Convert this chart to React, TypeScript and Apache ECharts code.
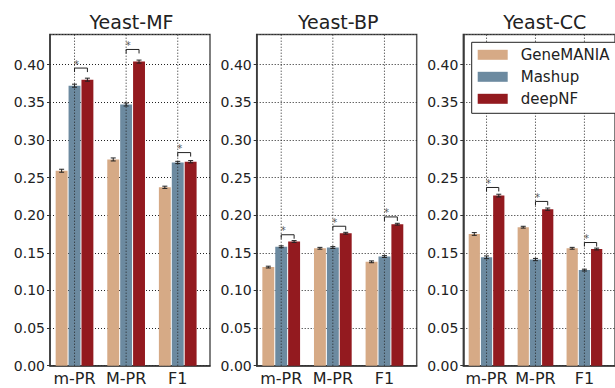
import { useEffect, useRef } from 'react';
import * as echarts from 'echarts';

const categories = ['m-PR', 'M-PR', 'F1'];
const panelTitles = ['Yeast-MF', 'Yeast-BP', 'Yeast-CC'];
const methods = ['GeneMANIA', 'Mashup', 'deepNF'];
const methodColors = ['#D6AA86', '#6C8AA0', '#931A1F'];

// Yeast-MF
const mfGeneMANIA = [0.259, 0.274, 0.237];
const mfMashup = [0.372, 0.347, 0.270];
const mfDeepNF = [0.380, 0.404, 0.271];
const mfErrGeneMANIA = [0.002, 0.002, 0.0015];
const mfErrMashup = [0.002, 0.002, 0.0015];
const mfErrDeepNF = [0.002, 0.002, 0.0015];
// Yeast-BP
const bpGeneMANIA = [0.131, 0.156, 0.138];
const bpMashup = [0.158, 0.157, 0.145];
const bpDeepNF = [0.165, 0.176, 0.188];
const bpErrGeneMANIA = [0.0012, 0.0012, 0.0012];
const bpErrMashup = [0.0012, 0.0012, 0.0012];
const bpErrDeepNF = [0.0012, 0.0012, 0.0012];
// Yeast-CC
const ccGeneMANIA = [0.175, 0.184, 0.156];
const ccMashup = [0.144, 0.141, 0.127];
const ccDeepNF = [0.226, 0.208, 0.155];
const ccErrGeneMANIA = [0.0018, 0.0012, 0.0012];
const ccErrMashup = [0.0018, 0.0015, 0.0012];
const ccErrDeepNF = [0.0018, 0.0015, 0.0012];

// significance (Mashup vs deepNF) per category
const mfSignificant = [true, true, true];
const bpSignificant = [true, true, true];
const ccSignificant = [true, true, true];

const panelValues = [
  [mfGeneMANIA, mfMashup, mfDeepNF],
  [bpGeneMANIA, bpMashup, bpDeepNF],
  [ccGeneMANIA, ccMashup, ccDeepNF],
];
const panelErrors = [
  [mfErrGeneMANIA, mfErrMashup, mfErrDeepNF],
  [bpErrGeneMANIA, bpErrMashup, bpErrDeepNF],
  [ccErrGeneMANIA, ccErrMashup, ccErrDeepNF],
];
const panelSignificant = [mfSignificant, bpSignificant, ccSignificant];

const FONT = 'DejaVu Sans';
const BAR_STEP = 0.25;
const Y_MAX = 0.44;

export default function App() {
  const ref = useRef<HTMLDivElement>(null);
  useEffect(() => {
    if (!ref.current) return;
    const chart = echarts.init(ref.current, undefined, { renderer: 'svg' });
    const lefts = [50, 256.7, 463.3];
    const W = 160;
    const TOP = 34.5;
    const H = 331.2;

    const grids = lefts.map((l) => ({
      left: l,
      top: TOP,
      width: W,
      height: H,
      show: true,
      borderColor: '#555',
      borderWidth: 1.5,
      backgroundColor: 'transparent',
    }));

    const xAxes = lefts.map((_, i) => ({
      type: 'value',
      gridIndex: i,
      min: -0.475,
      max: 2.625,
      axisLine: { show: true, onZero: false, lineStyle: { color: '#333', width: 1.5 } },
      axisTick: { show: false },
      splitLine: { show: false },
      axisLabel: {
        customValues: [0, 1, 2],
        formatter: (v: number) => categories[Math.round(v)] ?? '',
        fontFamily: FONT,
        fontSize: 16,
        color: '#222',
        margin: 5,
      },
    }));

    const yAxes = lefts.map((_, i) => ({
      type: 'value',
      gridIndex: i,
      min: 0,
      max: Y_MAX,
      interval: 0.05,
      axisLine: { show: true, onZero: false, lineStyle: { color: '#333', width: 1.5 } },
      axisTick: { show: true, length: 3, lineStyle: { color: '#333' } },
      splitLine: { show: true, lineStyle: { color: '#222', type: [1, 2], width: 1 } },
      axisLabel: {
        formatter: (v: number) => v.toFixed(2),
        showMaxLabel: false,
        fontFamily: FONT,
        fontSize: 14,
        color: '#222',
        margin: 5,
      },
    }));

    const series: any[] = [];
    panelValues.forEach((vals, p) => {
      methods.forEach((m, k) => {
        const offset = (k - 1) * BAR_STEP;
        series.push({
          type: 'custom',
          name: m,
          xAxisIndex: p,
          yAxisIndex: p,
          z: 2,
          itemStyle: { color: methodColors[k] },
          data: vals[k].map((v, c) => [c, v, panelErrors[p][k][c]]),
          renderItem: (params: any, api: any) => {
            const x = api.value(0) + offset;
            const v = api.value(1);
            const e = api.value(2);
            const top = api.coord([x, v]);
            const base = api.coord([x, 0]);
            const w = api.size([BAR_STEP, 0])[0];
            const bw = w - 1;
            const et = api.coord([x, v + e]);
            const eb = api.coord([x, v - e]);
            const cap = 2.5;
            return {
              type: 'group',
              children: [
                {
                  type: 'rect',
                  shape: { x: top[0] - bw / 2, y: top[1], width: bw, height: base[1] - top[1] },
                  style: { fill: api.visual('color') },
                },
                {
                  type: 'line',
                  shape: { x1: top[0], y1: et[1], x2: top[0], y2: eb[1] },
                  style: { stroke: '#222', lineWidth: 1 },
                },
                {
                  type: 'line',
                  shape: { x1: top[0] - cap, y1: et[1], x2: top[0] + cap, y2: et[1] },
                  style: { stroke: '#222', lineWidth: 1 },
                },
                {
                  type: 'line',
                  shape: { x1: top[0] - cap, y1: eb[1], x2: top[0] + cap, y2: eb[1] },
                  style: { stroke: '#222', lineWidth: 1 },
                },
              ],
            };
          },
        });
      });

      // vertical dotted grid lines (drawn above bars)
      series.push({
        type: 'custom',
        name: 'vgrid' + p,
        xAxisIndex: p,
        yAxisIndex: p,
        z: 3,
        silent: true,
        data: categories.map((_, c) => [c]),
        renderItem: (params: any, api: any) => {
          const a = api.coord([api.value(0), 0]);
          const b = api.coord([api.value(0), Y_MAX]);
          return {
            type: 'line',
            shape: { x1: a[0], y1: a[1], x2: b[0], y2: b[1] },
            style: { stroke: '#222', lineWidth: 1, lineDash: [1, 2] },
          };
        },
      });

      // significance brackets
      series.push({
        type: 'custom',
        name: 'sig' + p,
        xAxisIndex: p,
        yAxisIndex: p,
        z: 4,
        silent: true,
        data: categories
          .map((_, c) => [c, Math.max(vals[1][c], vals[2][c])])
          .filter((_, c) => panelSignificant[p][c]),
        renderItem: (params: any, api: any) => {
          const c = api.value(0);
          const mx = api.value(1);
          const yb = mx * 1.03 + 0.004;
          const l = api.coord([c, yb]);
          const r = api.coord([c + BAR_STEP, yb]);
          const leg = 4;
          return {
            type: 'group',
            children: [
              {
                type: 'polyline',
                shape: {
                  points: [
                    [l[0], l[1] + leg],
                    [l[0], l[1]],
                    [r[0], r[1]],
                    [r[0], r[1] + leg],
                  ],
                },
                style: { stroke: '#222', lineWidth: 1, fill: null },
              },
              {
                type: 'text',
                x: l[0] + 2,
                y: l[1] - 4,
                style: {
                  text: '*',
                  align: 'center',
                  verticalAlign: 'middle',
                  fontFamily: FONT,
                  fontSize: 10,
                  fill: '#555',
                },
              },
            ],
          };
        },
      });
    });

    const option: any = {
      animation: false,
      backgroundColor: '#fff',
      grid: grids,
      xAxis: xAxes,
      yAxis: yAxes,
      legend: {
        data: methods,
        orient: 'vertical',
        left: 471.7,
        top: 42.3,
        padding: [5, 10, 7, 6],
        itemGap: 7,
        itemWidth: 30,
        itemHeight: 10,
        icon: 'rect',
        borderColor: '#222',
        borderWidth: 1,
        backgroundColor: '#fff',
        selectedMode: false,
        z: 10,
        textStyle: {
          fontFamily: FONT,
          fontSize: 15,
          color: '#222',
          padding: [0, 0, 0, 8],
        },
      },
      graphic: panelTitles.map((t, i) => ({
        type: 'text',
        x: lefts[i] + W / 2 + 1.5,
        y: 22,
        style: {
          text: t,
          align: 'center',
          verticalAlign: 'middle',
          fontFamily: FONT,
          fontSize: 19,
          fill: '#222',
        },
      })),
      series,
    };
    chart.setOption(option);
    return () => chart.dispose();
  }, []);
  return (
    <div
      ref={ref}
      style={{ position: 'fixed', left: 0, top: 0, width: 615, height: 388 }}
    />
  );
}
